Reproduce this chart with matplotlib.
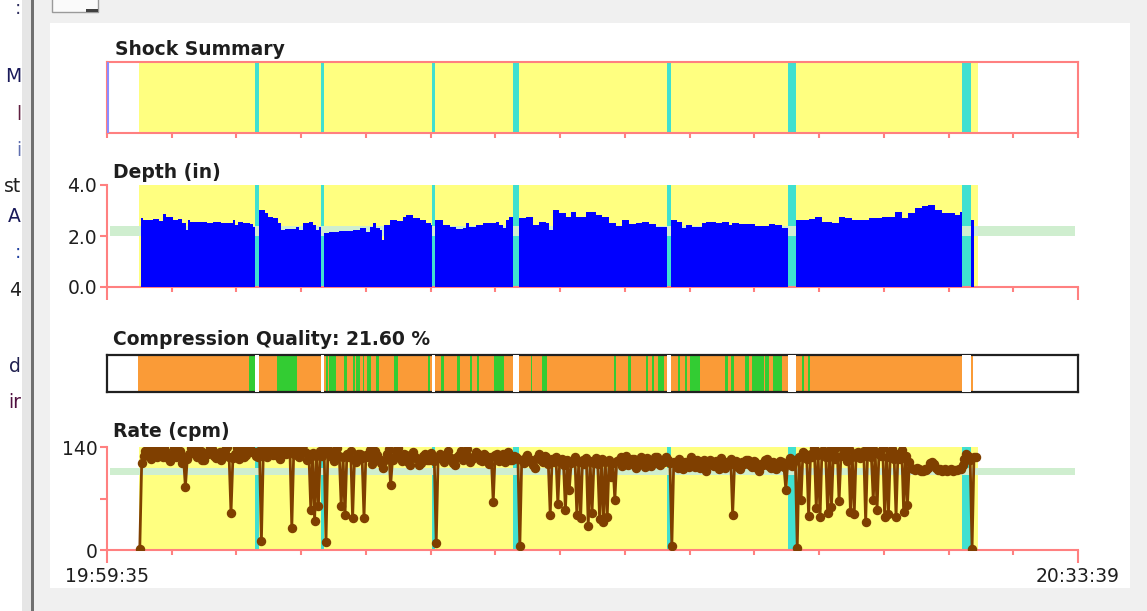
import numpy as np
import matplotlib
matplotlib.use('Agg')
import matplotlib.pyplot as plt
import matplotlib.patches as patches

# ---- data (seconds from 19:59:35) ----
duration_s = 2044
time_labels = ['19:59:35', '20:33:39']
cpr_start, cpr_end = 68, 1834

shock_start = [311, 450, 684, 855, 1178, 1434, 1800]
shock_end = [321, 456, 690, 867, 1187, 1450, 1818]

# depth (in), step values starting at each time
depth_t = [71, 76, 96, 110, 118, 125, 139, 150, 157, 166, 171, 174, 195, 210, 223, 240, 251, 265, 269, 276, 286, 300, 307, 311,
           321, 332, 339, 349, 360, 367, 374, 391, 398, 405, 412, 426, 433, 440, 447, 450,
           456, 468, 489, 518, 532, 546, 553, 559, 567, 574, 579, 584, 595, 610, 623, 630, 644, 658, 672, 682, 684,
           690, 707, 721, 735, 749, 755, 762, 777, 791, 819, 826, 833, 840, 847, 855,
           867, 882, 896, 910, 924, 931, 938, 952, 966, 976, 987, 1008, 1029, 1043, 1057, 1071, 1085, 1099, 1113, 1127, 1141, 1155, 1178,
           1187, 1200, 1211, 1218, 1232, 1253, 1260, 1281, 1295, 1309, 1316, 1330, 1365, 1393, 1407, 1421, 1434,
           1450, 1477, 1491, 1505, 1526, 1540, 1554, 1568, 1603, 1631, 1659, 1673, 1687, 1701, 1715, 1729, 1743, 1757, 1771, 1785, 1795, 1800,
           1818, 1826, 2044]
depth_in = [2.69, 2.63, 2.66, 2.60, 2.87, 2.76, 2.63, 2.66, 2.50, 2.24, 2.63, 2.54, 2.56, 2.52, 2.54, 2.50, 2.52, 2.63, 2.43, 2.56, 2.50, 2.47, 2.37, 0,
            3.02, 2.89, 2.76, 2.69, 2.50, 2.24, 2.26, 2.28, 2.37, 2.24, 2.50, 2.56, 2.43, 2.24, 2.37, 0,
            2.10, 2.17, 2.20, 2.24, 2.30, 2.17, 2.37, 2.50, 2.30, 2.24, 1.84, 2.43, 2.63, 2.60, 2.76, 2.82, 2.69, 2.63, 2.50, 2.43, 0,
            2.63, 2.43, 2.37, 2.26, 2.30, 2.50, 2.37, 2.43, 2.50, 2.56, 2.43, 2.30, 2.63, 2.76, 0,
            2.69, 2.76, 2.43, 2.56, 2.50, 2.24, 3.02, 2.89, 2.76, 2.95, 2.76, 2.95, 2.82, 2.76, 2.50, 2.39, 2.63, 2.47, 2.50, 2.54, 2.47, 2.34, 0,
            2.63, 2.56, 2.30, 2.43, 2.34, 2.50, 2.56, 2.50, 2.56, 2.43, 2.50, 2.47, 2.39, 2.47, 2.43, 2.30, 0,
            2.63, 2.66, 2.76, 2.56, 2.50, 2.76, 2.69, 2.63, 2.69, 2.76, 2.95, 2.69, 2.89, 3.08, 3.18, 3.21, 3.02, 2.89, 2.91, 2.82, 2.95, 0,
            2.63, 0, 0]
depth_target = (2.0, 2.4)

# compression quality: green (good) stretches, rest of CPR is orange
good_start = [299, 357, 461, 468, 498, 517, 525, 538, 548, 567, 605, 675, 703, 737, 764, 779, 815, 892, 915,
              1067, 1097, 1134, 1147, 1160, 1202, 1217, 1228, 1300, 1314, 1344, 1358, 1386, 1403, 1463, 1475]
good_end = [311, 399, 465, 483, 506, 521, 532, 542, 556, 572, 613, 680, 710, 743, 769, 784, 836, 895, 927,
            1071, 1103, 1139, 1151, 1173, 1207, 1221, 1249, 1307, 1319, 1351, 1382, 1393, 1421, 1468, 1480]
cq_start, cq_end = 66, 1822
cq_percent = 21.60

# rate (cpm), one sample every 4 s from 69 s
rate_t0, rate_dt = 69, 4
rate_cpm = [2, 118, 128, 134, 136, 129, 124, 137, 131, 126, 140, 132, 126, 139, 133, 125, 121, 130, 138, 127,
            129, 135, 118, 126, 86, 124, 130, 138, 141, 131, 127, 134, 135, 123, 122, 132, 130, 140, 137, 128,
            125, 131, 133, 122, 128, 136, 140, 127, 50, 125, 131, 138, 124, 130, 136, 126, 129, 139, 142, 133,
            133, 128, 126, 134, 12, 131, 138, 127, 143, 135, 129, 140, 136, 128, 124, 137, 141, 130, 132, 139,
            30, 131, 137, 129, 127, 141, 143, 133, 122, 130, 55, 132, 40, 128, 60, 135, 128, 136, 11, 134,
            134, 127, 121, 133, 139, 128, 60, 126, 47, 131, 126, 135, 43, 124, 119, 130, 131, 125, 44, 129,
            127, 136, 117, 125, 135, 129, 124, 118, 112, 122, 130, 137, 88, 123, 126, 134, 138, 128, 121, 131,
            129, 120, 115, 126, 133, 127, 124, 116, 118, 128, 130, 123, 122, 132, 127, 121, 9, 125, 131, 124,
            120, 129, 134, 124, 125, 118, 116, 127, 129, 135, 123, 130, 137, 126, 119, 124, 126, 133, 131, 122,
            121, 130, 128, 120, 117, 126, 65, 129, 130, 121, 124, 131, 119, 125, 133, 123, 122, 128, 127, 124,
            5, 122, 118, 127, 129, 121, 123, 115, 112, 125, 131, 122, 120, 128, 126, 117, 48, 124, 119, 127,
            63, 120, 124, 116, 54, 123, 81, 118, 121, 126, 48, 119, 43, 122, 117, 125, 33, 121, 50, 118,
            125, 117, 42, 124, 38, 120, 45, 123, 99, 118, 68, 121, 122, 127, 114, 120, 128, 116, 119, 124,
            124, 112, 116, 122, 127, 118, 113, 125, 121, 114, 118, 127, 126, 117, 115, 122, 120, 126, 123, 118,
            5, 119, 117, 111, 124, 116, 110, 120, 119, 113, 126, 118, 113, 122, 121, 112, 116, 123, 108, 117,
            122, 115, 114, 121, 119, 110, 125, 117, 112, 120, 118, 124, 48, 116, 121, 113, 110, 119, 117, 123,
            123, 115, 113, 121, 119, 112, 108, 117, 116, 122, 124, 114, 111, 119, 118, 110, 114, 121, 120, 113,
            82, 119, 125, 114, 118, 122, 3, 126, 68, 133, 130, 124, 46, 131, 127, 138, 57, 129, 45, 134,
            135, 127, 50, 136, 58, 130, 124, 140, 66, 128, 139, 131, 121, 137, 52, 126, 49, 132, 133, 125,
            126, 134, 38, 129, 141, 127, 68, 135, 55, 130, 128, 138, 45, 127, 49, 133, 137, 124, 45, 131,
            124, 136, 52, 128, 61, 119, 112, 110, 109, 111, 110, 108, 108, 110, 109, 111, 118, 120, 117, 112,
            109, 110, 108, 109, 110, 108, 109, 110, 108, 109, 109, 110, 110, 116, 124, 130, 128, 122, 2, 127,
            126]
rate_target = (102, 112)

# ---- colours ----
PINK = '#ff8080'
YELLOW = '#ffff80'
CYAN = '#40e0d0'
BAND = '#cfeecf'
ORANGE = '#fa9b37'
GREEN = '#33cc33'
BROWN = '#7f3f00'
TXT = '#1e1e1e'

W, H = 1147, 611
fig = plt.figure(figsize=(W / 100, H / 100), dpi=100, facecolor='#f0f0f0')


def fx(px):
    return px / W


def fy(py):
    return 1 - py / H


# window chrome around the chart
def rect(x0, y0, x1, y1, fc, ec='none', lw=0):
    fig.patches.append(patches.Rectangle((fx(x0), fy(y1)), (x1 - x0) / W, (y1 - y0) / H,
                                         transform=fig.transFigure, facecolor=fc,
                                         edgecolor=ec, linewidth=lw, zorder=-1))


rect(0, 0, 22, 611, 'white')
rect(22, 0, 31, 611, '#e6e6e6')
rect(31, 0, 34, 611, '#707070')
rect(50, 23, 1130, 588, 'white')
rect(52, -3, 98, 12, '#fafafa', '#9a9a9a', 1.0)
rect(86, 9, 98, 12, '#404040')

frag = [(':', 8, '#303060'), ('M', 77, '#1a1a5a'), ('l', 115, '#602040'), ('i', 150, '#6070b0'),
        ('st', 186, '#202020'), ('A', 216, '#1a1a5a'), (':', 252, '#2040a0'), ('4', 290, '#202020'),
        ('d', 366, '#202050'), ('ir', 402, '#501040')]
for s, yy, c in frag:
    fig.text(fx(21), fy(yy), s, ha='right', va='center', fontsize=13.5, color=c)

ticks_all = np.linspace(0, duration_s, 16)


def time_axis(ax):
    ax.set_xlim(0, duration_s)
    ax.set_xticks([0, duration_s])
    ax.set_xticks(ticks_all[1:-1], minor=True)
    ax.tick_params(axis='x', which='major', length=9.5, width=1.5, color=PINK,
                   labelsize=13.5, labelcolor=TXT, pad=2.5)
    ax.tick_params(axis='x', which='minor', length=3.6, width=1.5, color=PINK)


def shocks(ax, color, z):
    for s0, s1 in zip(shock_start, shock_end):
        ax.axvspan(s0, s1, color=color, lw=0, zorder=z)


# ---- Shock Summary ----
ax1 = fig.add_axes([fx(107), fy(133), 971 / W, 71 / H])
ax1.set_ylim(0, 1)
time_axis(ax1)
ax1.set_xticks([], minor=False)
ax1.set_xticks(ticks_all, minor=True)
ax1.tick_params(axis='x', which='minor', length=3.6)
ax1.set_yticks([])
ax1.axvspan(cpr_start, cpr_end, color=YELLOW, lw=0, zorder=1)
shocks(ax1, CYAN, 2)
ax1.axvline(3, color='#8c8cff', lw=1.5, zorder=3)
for sp in ax1.spines.values():
    sp.set_color(PINK)
    sp.set_linewidth(1.5)

# ---- Depth ----
ax2 = fig.add_axes([fx(107), fy(287), 971 / W, 102 / H])
ax2.set_ylim(0, 4)
time_axis(ax2)
ax2.tick_params(axis='x', labelbottom=False)
ax2.set_yticks([0, 2, 4], ['0.0', '2.0', '4.0'])
ax2.axvspan(cpr_start, cpr_end, color=YELLOW, lw=0, zorder=1)
shocks(ax2, CYAN, 2)
ax2.axhspan(depth_target[0], depth_target[1], xmin=0.003, xmax=0.997, color=BAND, lw=0, zorder=3)
ax2.fill_between(depth_t, 0, depth_in, step='post', color='#0000ff', lw=0, zorder=4)

# ---- Compression Quality ----
ax3 = fig.add_axes([fx(107), fy(392), 971 / W, 37 / H])
ax3.set_xlim(0, duration_s)
ax3.set_ylim(0, 1)
ax3.set_xticks([])
ax3.set_yticks([])
ax3.axvspan(cq_start, cq_end, color=ORANGE, lw=0, zorder=1)
for g0, g1 in zip(good_start, good_end):
    ax3.axvspan(g0, g1, color=GREEN, lw=0, zorder=2)
shocks(ax3, 'white', 3)
for sp in ax3.spines.values():
    sp.set_color('#202020')
    sp.set_linewidth(1.6)

# ---- Rate ----
ax4 = fig.add_axes([fx(107), fy(550), 971 / W, 103 / H])
ax4.set_ylim(0, 140)
time_axis(ax4)
ax4.set_xticklabels(time_labels)
ax4.set_yticks([0, 70, 140], ['0', '', '140'])
ax4.axvspan(cpr_start, cpr_end, color=YELLOW, lw=0, zorder=1)
shocks(ax4, CYAN, 2)
ax4.axhspan(rate_target[0], rate_target[1], xmin=0.003, xmax=0.997, color=BAND, lw=0, zorder=3)
rate_t = rate_t0 + rate_dt * np.arange(len(rate_cpm))
ax4.plot(rate_t, rate_cpm, color=BROWN, lw=2.0, marker='o', ms=5.8, zorder=4)

for ax in (ax2, ax4):
    ax.spines['top'].set_visible(False)
    ax.spines['right'].set_visible(False)
    ax.spines['left'].set_color(PINK)
    ax.spines['bottom'].set_color(PINK)
    ax.spines['left'].set_linewidth(1.5)
    ax.spines['bottom'].set_linewidth(1.5)
    ax.tick_params(axis='y', length=5, width=1.5, color=PINK, labelsize=13.5,
                   labelcolor=TXT, pad=2)

for ax in (ax1, ax2, ax3, ax4):
    ax.set_facecolor('white')

# panel titles
title_kw = dict(fontsize=13.5, fontweight='bold', color=TXT, va='baseline', ha='left')
fig.text(fx(115), fy(55), 'Shock Summary', **title_kw)
fig.text(fx(113), fy(178), 'Depth (in)', **title_kw)
fig.text(fx(113), fy(345), 'Compression Quality: %.2f %%' % cq_percent, **title_kw)
fig.text(fx(113), fy(437), 'Rate (cpm)', **title_kw)

fig.savefig('out.png', dpi=100, facecolor=fig.get_facecolor())
